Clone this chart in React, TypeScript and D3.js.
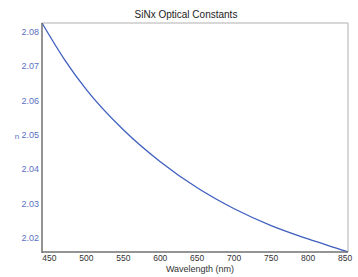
import React from "react";
import * as d3 from "d3";

const wavelengths = [440, 470, 500, 550, 600, 650, 700, 750, 800, 850, 854];
const nValues = [2.0826, 2.0721, 2.0632, 2.0515, 2.0422, 2.0346, 2.0285, 2.0236, 2.0197, 2.0162, 2.0159];
const xTicks = [450, 500, 550, 600, 650, 700, 750, 800, 850];
const yTicks = [2.02, 2.03, 2.04, 2.05, 2.06, 2.07, 2.08];

const W = 358, H = 277;
const m = { left: 42, top: 23, right: 348, bottom: 252 };

export default function App() {
  const x = d3.scaleLinear().domain([440, 854]).range([m.left, m.right]);
  const y = d3.scaleLinear().domain([2.0159, 2.0826]).range([m.bottom, m.top]);
  const data = wavelengths.map((w, i) => [w, nValues[i]] as [number, number]);
  const line = d3.line<[number, number]>().x(d => x(d[0])).y(d => y(d[1])).curve(d3.curveMonotoneX);
  const font = "Liberation Sans, Arial, sans-serif";
  return (
    <svg width={W} height={H} style={{ position: "absolute", left: 0, top: 0, background: "#fff" }} fontFamily={font}>
      <rect x={0} y={0} width={W} height={H} fill="#fff" />
      <text x={186} y={18} fontSize={10} textAnchor="middle" fill="#222">SiNx Optical Constants</text>
      <line x1={m.left} x2={m.right} y1={m.top} y2={m.top} stroke="#b0b0b0" strokeWidth={1} />
      <line x1={m.right} x2={m.right} y1={m.top} y2={m.bottom} stroke="#b0b0b0" strokeWidth={1} />
      <path d={line(data) || ""} fill="none" stroke="#3f5fbf" strokeWidth={1.3} />
      <line x1={m.left} x2={m.left} y1={m.top} y2={m.bottom + 1} stroke="#707070" strokeWidth={1.5} />
      <line x1={m.left} x2={m.right} y1={m.bottom} y2={m.bottom} stroke="#707070" strokeWidth={1.5} />
      {yTicks.map(t => (
        <text key={t} x={m.left - 3} y={y(t) + 3} fontSize={9} textAnchor="end" fill="#5b6fc4">{t.toFixed(2)}</text>
      ))}
      {xTicks.map(t => (
        <text key={t} x={x(t)} y={m.bottom + 9} fontSize={8.5} textAnchor="middle" fill="#333">{t}</text>
      ))}
      <text x={200} y={272} fontSize={9} textAnchor="middle" fill="#333">Wavelength (nm)</text>
      <text x={17} y={139} fontSize={8} textAnchor="middle" fill="#5b6fc4">n</text>
    </svg>
  );
}
